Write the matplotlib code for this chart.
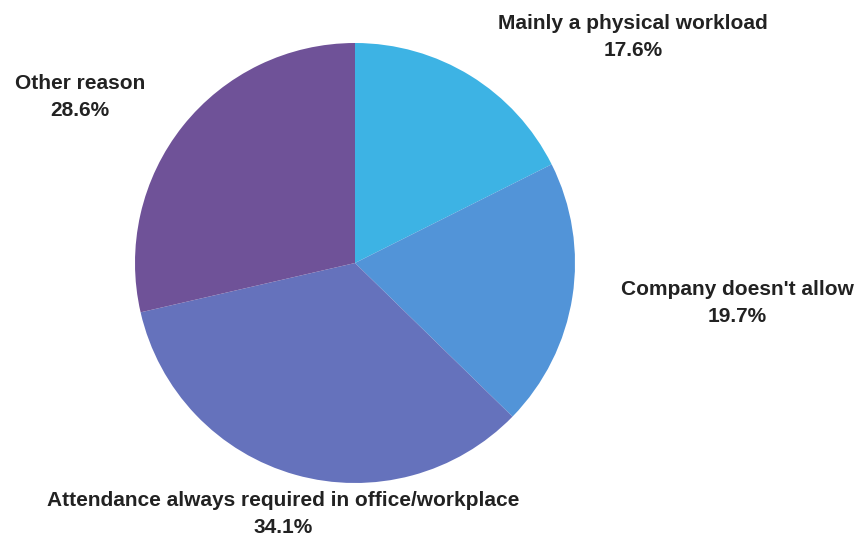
import matplotlib.pyplot as plt

reasons = ['Mainly a physical workload', "Company doesn't allow",
           'Attendance always required in office/workplace', 'Other reason']
shares = [17.6, 19.7, 34.1, 28.6]
colors = ['#3db3e4', '#5294d8', '#6572bc', '#6f5298']

# label anchor points in pixels (x, y from top)
label_pos = [(633, 37), (737, 303), (283, 514), (80, 97)]

plt.rcParams['font.family'] = ['Liberation Sans', 'DejaVu Sans']

fig = plt.figure(figsize=(8.63, 5.39), dpi=100)
ax = fig.add_axes([0, 0, 1, 1])

ax.pie(shares, colors=colors, startangle=90, counterclock=False,
       center=(355, 539 - 263), radius=220, frame=True,
       wedgeprops={'linewidth': 0})
ax.set_xlim(0, 863)
ax.set_ylim(0, 539)
ax.set_aspect('equal')
ax.axis('off')

for name, val, (x, y) in zip(reasons, shares, label_pos):
    ax.text(x, 539 - y, f'{name}\n{val}%', ha='center', va='center',
            fontsize=15, fontweight='bold', color='#222222', linespacing=1.55)

fig.savefig('out.png', dpi=100)
